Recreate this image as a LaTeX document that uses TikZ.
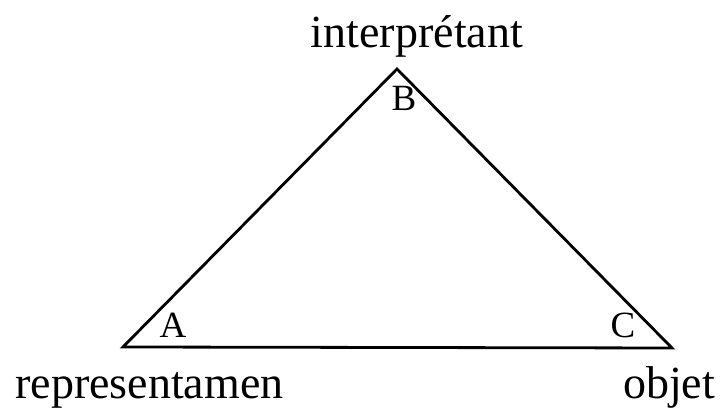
\documentclass[tikz,border=0pt]{standalone}
\usepackage{fontspec}
\setmainfont{Liberation Serif}

\begin{document}
\begin{tikzpicture}[
  x=0.5pt,y=-0.5pt,
  corner/.style={inner sep=0pt,font=\fontsize{18.5}{19}\selectfont},
  term/.style={inner sep=0pt,font=\fontsize{23}{24}\selectfont},
  side/.style={line width=1.4pt,line join=miter}
]
  \useasboundingbox (0,0) rectangle (725,415);
  \coordinate (a) at (123,347);
  \coordinate (b) at (397,69);
  \coordinate (c) at (672,348);
  \draw[side] (a) -- (b) -- (c) -- cycle;
  \node[corner] (la) at (173,325) {A};
  \node[corner] (lb) at (404,98) {B};
  \node[corner] (lc) at (623,325) {C};
  \node[term,anchor=base] (interp) at (417,48) {interprétant};
  \node[term,anchor=base west] (repr) at (15,399) {representamen};
  \node[term,anchor=base] (obj) at (669,399) {objet};
\end{tikzpicture}
\end{document}
